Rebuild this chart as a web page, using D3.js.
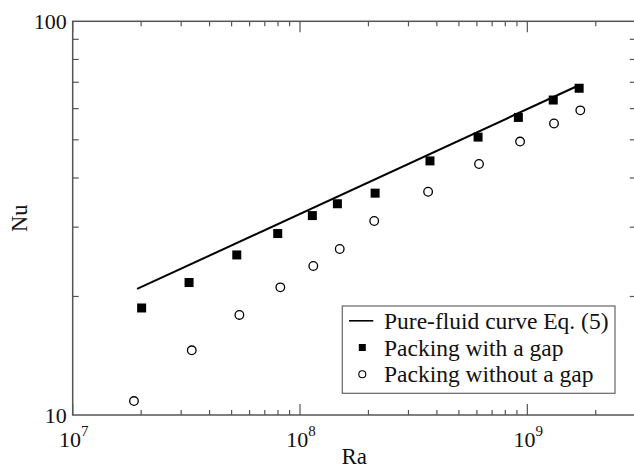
<!DOCTYPE html>
<html lang="en">
<head>
<meta charset="utf-8">
<title>Nu vs Ra</title>
<script src="https://d3js.org/d3.v7.min.js"></script>
<style>
  body { margin: 0; background: #fff; }
  svg { display: block; }
  text { font-family: "Liberation Serif", "Times New Roman", serif; fill: #111; }
  .frame { fill: none; stroke: #555; stroke-width: 1.5; }
  .tick { stroke: #555; stroke-width: 1.2; }
</style>
</head>
<body>
<div id="chart"></div>
<script>
// data
var raGap   = [2.01e7, 3.25e7, 5.27e7, 7.98e7, 1.133e8, 1.46e8, 2.14e8, 3.73e8, 6.07e8, 9.13e8, 1.30e9, 1.69e9];
var nuGap   = [18.7, 21.7, 25.5, 28.9, 32.1, 34.4, 36.6, 44.2, 50.8, 57.0, 63.1, 67.6];
var raNoGap = [1.86e7, 3.34e7, 5.41e7, 8.19e7, 1.144e8, 1.495e8, 2.12e8, 3.66e8, 6.13e8, 9.29e8, 1.31e9, 1.71e9];
var nuNoGap = [10.85, 14.6, 17.95, 21.1, 23.9, 26.4, 31.1, 36.9, 43.4, 49.5, 55.0, 59.4];
var raCurve = [1.92e7, 1.66e9];
var nuCurve = [20.9, 68.5];
var xMajor = [1e7, 1e8, 1e9];
var xLabels = ["7", "8", "9"];
var yMajor = [10, 100];
var yLabels = ["10", "100"];
var legendLabels = ["Pure-fluid curve Eq. (5)", "Packing with a gap", "Packing without a gap"];

var w = 634, h = 470;
var margin = {left: 72.7, top: 21.3, right: w - 635.8, bottom: h - 415};

var svg = d3.select("#chart").append("svg")
  .attr("width", w).attr("height", h);

var x = d3.scaleLog().domain([1e7, 3e9]).range([margin.left, w - margin.right]);
var y = d3.scaleLog().domain([10, 100]).range([h - margin.bottom, margin.top]);

var x0 = x.range()[0], x1 = x.range()[1], y0 = y.range()[0], y1 = y.range()[1];

// ticks
var xMinor = [];
[1e7, 1e8, 1e9].forEach(function(d) {
  for (var k = 2; k <= 9; k++) if (d * k <= 3e9) xMinor.push(d * k);
});
var yMinor = d3.range(2, 10).map(function(k) { return k * 10; });

var ticks = svg.append("g");
xMinor.concat(xMajor).forEach(function(v) {
  var len = xMajor.indexOf(v) >= 0 ? 11 : 5;
  ticks.append("line").attr("class", "tick")
    .attr("x1", x(v)).attr("x2", x(v)).attr("y1", y0).attr("y2", y0 - len);
  ticks.append("line").attr("class", "tick")
    .attr("x1", x(v)).attr("x2", x(v)).attr("y1", y1).attr("y2", y1 + len);
});
yMinor.forEach(function(v) {
  ticks.append("line").attr("class", "tick")
    .attr("x1", x0).attr("x2", x0 + 6).attr("y1", y(v)).attr("y2", y(v));
  ticks.append("line").attr("class", "tick")
    .attr("x1", x1).attr("x2", x1 - 6).attr("y1", y(v)).attr("y2", y(v));
});

svg.append("rect").attr("class", "frame")
  .attr("x", x0).attr("y", y1).attr("width", x1 - x0).attr("height", y0 - y1);

// tick labels
xMajor.forEach(function(v, i) {
  var t = svg.append("text")
    .attr("x", x(v) + 1).attr("y", 447)
    .attr("text-anchor", "middle")
    .style("font-size", "22px");
  t.append("tspan").text("10");
  t.append("tspan").text(xLabels[i]).attr("dy", -11).style("font-size", "15px");
});
yMajor.forEach(function(v, i) {
  svg.append("text")
    .attr("x", x0 - 6).attr("y", y(v) + 7.5)
    .attr("text-anchor", "end")
    .style("font-size", "22px")
    .text(yLabels[i]);
});

// axis titles
svg.append("text").text("Ra")
  .attr("x", (x0 + x1) / 2).attr("y", 464)
  .attr("text-anchor", "middle").style("font-size", "23px");
svg.append("text").text("Nu")
  .attr("transform", "translate(26.5," + ((y0 + y1) / 2) + ") rotate(-90)")
  .attr("text-anchor", "middle").style("font-size", "22.5px");

// curve
var line = d3.line().x(function(d) { return x(d[0]); }).y(function(d) { return y(d[1]); });
svg.append("path")
  .datum(d3.zip(raCurve, nuCurve))
  .attr("d", line)
  .attr("fill", "none").attr("stroke", "#000").attr("stroke-width", 2);

// squares
var sq = 9;
svg.append("g").selectAll("rect")
  .data(d3.zip(raGap, nuGap)).enter().append("rect")
  .attr("x", function(d) { return x(d[0]) - sq / 2; })
  .attr("y", function(d) { return y(d[1]) - sq / 2; })
  .attr("width", sq).attr("height", sq)
  .attr("fill", "#000");

// circles
svg.append("g").selectAll("circle")
  .data(d3.zip(raNoGap, nuNoGap)).enter().append("circle")
  .attr("cx", function(d) { return x(d[0]); })
  .attr("cy", function(d) { return y(d[1]); })
  .attr("r", 4.3)
  .attr("fill", "#fff").attr("stroke", "#000").attr("stroke-width", 1.3);

// legend
var lg = svg.append("g");
lg.append("rect")
  .attr("x", 342.3).attr("y", 306).attr("width", 272.7).attr("height", 87.3)
  .attr("fill", "#fff").attr("stroke", "#666").attr("stroke-width", 1.2);
var rowY = [328.8, 355.5, 382.2];
legendLabels.forEach(function(s, i) {
  lg.append("text").text(s)
    .attr("x", 384).attr("y", rowY[i])
    .style("font-size", "23.5px");
});
lg.append("line")
  .attr("x1", 349).attr("x2", 373.3).attr("y1", rowY[0] - 8).attr("y2", rowY[0] - 8)
  .attr("stroke", "#000").attr("stroke-width", 1.6);
lg.append("rect")
  .attr("x", 362.3 - 3.5).attr("y", rowY[1] - 8 - 3.5).attr("width", 7).attr("height", 7)
  .attr("fill", "#000");
lg.append("circle")
  .attr("cx", 362.3).attr("cy", rowY[2] - 8).attr("r", 3.5)
  .attr("fill", "#fff").attr("stroke", "#000").attr("stroke-width", 1.1);
</script>
</body>
</html>
